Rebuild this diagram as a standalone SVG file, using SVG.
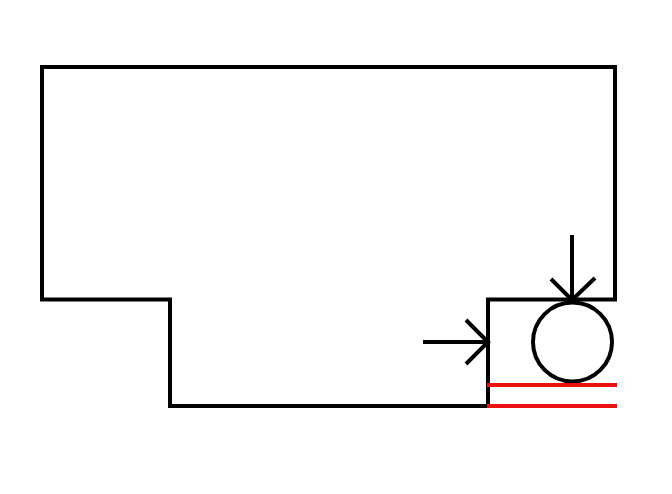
<svg xmlns="http://www.w3.org/2000/svg" width="672" height="494" viewBox="0 0 672 494">
<style>
.k{fill:none;stroke:#000;stroke-width:4}
.r{fill:none;stroke:#ec1010;stroke-width:4}
</style>
<rect width="672" height="494" fill="#fff"/>
<g id="outline"><path class="k" d="M42 67H615V299.500H488V406H170V299.500H42Z"/></g>
<g id="roller"><circle class="k" cx="572.500" cy="342" r="39.500"/></g>
<g id="rails"><path class="r" d="M487 385H617M487 406H617"/></g>
<g id="connectors">
<path class="k" d="M423 342H487M466 320L488 342L466 364"/>
<path class="k" d="M572 235V299M551 279L572 300L595 278"/>
</g>
</svg>
